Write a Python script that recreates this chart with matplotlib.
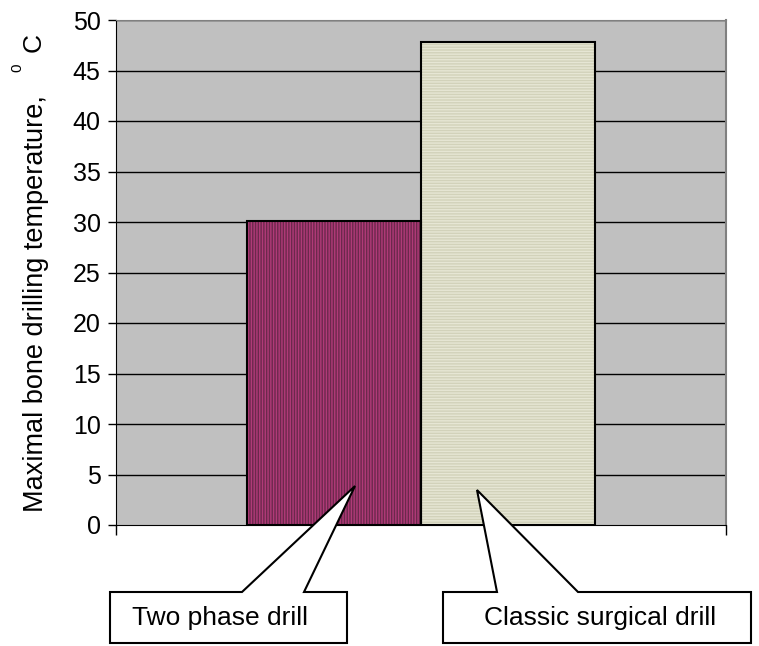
import matplotlib
matplotlib.use('Agg')
import matplotlib.pyplot as plt
import matplotlib.patches as mplpatches
import numpy as np

plt.rcParams['font.family'] = ['Liberation Sans', 'DejaVu Sans']
plt.rcParams['hatch.linewidth'] = 1.0

# maximal bone drilling temperature, deg C
drills = ['Two phase drill', 'Classic surgical drill']
temperatures = [30.1, 47.8]
yticks = [0, 5, 10, 15, 20, 25, 30, 35, 40, 45, 50]

figureWidth = 7.59
figureHeight = 6.46
fig = plt.figure(figsize=(figureWidth, figureHeight), dpi=100)

def px(x, y):
    '''pixel position (from top left) to figure fraction'''
    return (x / (figureWidth * 100), 1 - y / (figureHeight * 100))

left, top = px(116, 20)
right, bottom = px(726, 525)
ax = fig.add_axes([left, bottom, right - left, top - bottom])
ax.set_facecolor('#c0c0c0')

ax.set_xlim(0, 1)
ax.set_ylim(0, 50)
ax.set_yticks(yticks)
ax.set_yticklabels([str(t) for t in yticks], fontsize=18)
ax.set_xticks([0, 1])
ax.set_xticklabels(['', ''])
ax.tick_params(axis='y', direction='out', length=6, width=1, pad=5)
ax.tick_params(axis='x', direction='out', length=7, width=1)

for t in yticks[1:]:
    ax.axhline(t, color='black', linewidth=1, zorder=1)

ax.spines['left'].set_color('black')
ax.spines['bottom'].set_color('black')
ax.spines['top'].set_color('#808080')
ax.spines['right'].set_color('#808080')
ax.spines['right'].set_linewidth(1.5)

# two bars in one category, Excel-style gap width 150%
barWidth = 1 / 3.5
starts = [0.5 - barWidth, 0.5]
faces = ['#6c284c', '#d2d2ba']
stripes = ['#b03a78', '#e6e6d4']
hatches = ['|' * 6, '-' * 6]
for i in range(len(drills)):
    ax.bar(starts[i], temperatures[i], width=barWidth, align='edge',
           facecolor=faces[i], edgecolor=stripes[i], hatch=hatches[i],
           linewidth=0, zorder=2)
    ax.bar(starts[i], temperatures[i], width=barWidth, align='edge',
           facecolor='none', edgecolor='black', linewidth=1.5, zorder=3)

# y axis label with superscript degree mark
fig.text(*px(36, 303), 'Maximal bone drilling temperature,', rotation=90,
         fontsize=19.5, ha='center', va='center')
fig.text(*px(17, 68), '0', rotation=90, fontsize=11, ha='center', va='center')
fig.text(*px(34, 42), 'C', rotation=90, fontsize=19, ha='center', va='center')

# callout boxes with pointers into the bars
callouts = [
    [(110, 592), (242, 592), (355, 486), (304, 592), (347, 592), (347, 643), (110, 643)],
    [(443, 592), (497, 592), (477, 490), (578, 592), (751, 592), (751, 643), (443, 643)],
]
labelPos = [(220, 618), (600, 618)]
for i in range(len(drills)):
    poly = mplpatches.Polygon([px(x, y) for x, y in callouts[i]], closed=True,
                              facecolor='white', edgecolor='black',
                              linewidth=1.5, transform=fig.transFigure,
                              zorder=10)
    fig.patches.append(poly)
    fig.text(*px(*labelPos[i]), drills[i], fontsize=19, ha='center',
             va='center', zorder=11)

plt.savefig('out.png', dpi=100)
